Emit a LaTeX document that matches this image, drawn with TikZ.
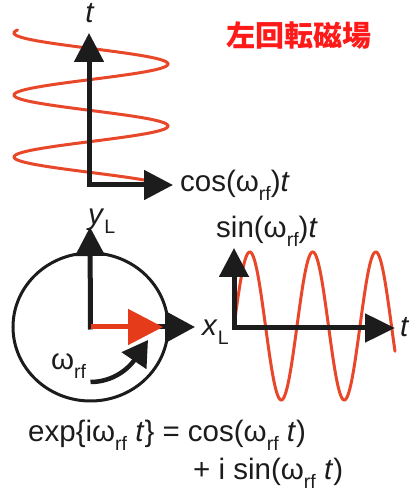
\documentclass[tikz,border=0pt]{standalone}
\usepackage{fontspec}
\setmainfont{Liberation Sans}
\newfontfamily\cjk{Noto Sans CJK JP}
\usetikzlibrary{arrows.meta}
\definecolor{wave}{HTML}{E8472A}
\definecolor{redarrow}{HTML}{E63B1A}
\definecolor{axiscol}{HTML}{1C1C1C}
\definecolor{titlecol}{HTML}{FF1A1A}
\newcommand\lsub[1]{\raisebox{-0.28em}{\fontsize{19.5}{22}\selectfont #1}}
\begin{document}
\begin{tikzpicture}[x=1pt,y=1pt,
  lab/.style={font=\fontsize{29.5}{36}\selectfont, inner sep=0pt, text=axiscol},
  axisline/.style={draw=axiscol, line width=5pt},
  wavecurve/.style={draw=wave, line width=3pt, line cap=round},
  bighead/.style={-{Triangle[length=#1, width=#1]}}
]
\useasboundingbox (0,0) rectangle (414,493);
\fill[white] (0,0) rectangle (414,493);

% ---------- top panel: helix ----------
\draw[wavecurve, domain=30:180, samples=240, variable=\t]
  plot ({91-77*cos(5.80645*(\t-33))}, {493-\t});
\coordinate (o1) at (89,308);
\coordinate (t1) at (89,460);
\coordinate (c1) at (173,308);
\draw[axisline, bighead=29pt] (o1) -- (t1);
\draw[axisline, bighead=29pt] ([xshift=-2.5pt]o1) -- (c1);
\node[lab, anchor=base] (tlab1) at (90,470) {\textit{t}};
\node[lab, anchor=base west] (coslab) at (180,301) {cos(ω\lsub{rf})\textit{t}};

% ---------- title ----------
\node[font=\cjk\bfseries\fontsize{29}{34}\selectfont, text=titlecol, inner sep=0pt] (title) at (299,457) {左回転磁場};

% ---------- circle panel ----------
\coordinate (cc) at (90.5,166);
\draw[axiscol, line width=3pt] (cc) ellipse [x radius=77.5, y radius=74];
\coordinate (ytip) at (90,266);
\coordinate (xtip) at (195,166);
\coordinate (rtip) at (163,166);
\draw[axisline, bighead=29pt] ([yshift=-2.5pt]cc) -- (ytip);
\draw[axisline, -{Triangle[length=30pt,width=31pt]}] (cc) -- (xtip);
\draw[draw=redarrow, line width=5pt, -{Triangle[length=35pt,width=35pt]}] (cc) -- (rtip);
\coordinate (rotend) at (148,153);
\draw[axiscol, line width=4.5pt, -{Triangle[length=25pt,width=29pt]}]
  ([shift={(-90:55)}]cc) arc[start angle=-90, end angle=-38, radius=55] -- (rotend);
\node[lab, anchor=base west] (ylab) at (88,268) {\textit{y}\lsub{L}};
\node[lab, anchor=base west] (xlab) at (202,157) {\textit{x}\lsub{L}};
\node[lab, anchor=base west] (wlab) at (51,123) {ω\lsub{rf}};

% ---------- sine panel ----------
\draw[wavecurve, domain=234:395, samples=240, variable=\x]
  plot (\x, {167+74*sin(5.71429*(\x-234))});
\coordinate (o2) at (234,165);
\coordinate (s2) at (234,245);
\coordinate (t2) at (395,165);
\draw[axisline, bighead=29pt] (o2) -- (s2);
\draw[axisline, -{Triangle[length=30pt,width=28pt]}] ([xshift=-2.5pt]o2) -- (t2);
\node[lab, anchor=base west] (sinlab) at (216,255) {sin(ω\lsub{rf})\textit{t}};
\node[lab, anchor=base west] (tlab2) at (400,156) {\textit{t}};

% ---------- equation ----------
\node[lab, anchor=base west] (eq1) at (28,51) {exp\{iω\lsub{rf}\ \textit{t}\} = cos(ω\lsub{rf}\ \textit{t})};
\node[lab, anchor=base west] (eq2) at (193,13) {+ i sin(ω\lsub{rf}\ \textit{t})};
\end{tikzpicture}
\end{document}
